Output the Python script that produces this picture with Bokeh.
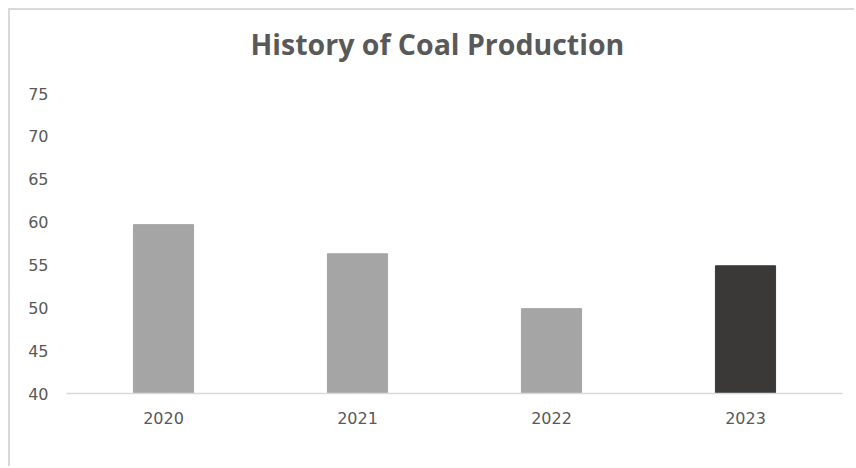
from bokeh.plotting import figure
from bokeh.models import ColumnDataSource, FactorRange, Range1d, FixedTicker, Title
from bokeh.embed import file_html
from bokeh.resources import INLINE

years = ["2020", "2021", "2022", "2023"]
production = [59.7, 56.3, 49.9, 54.9]
bar_colors = ["#a5a5a5", "#a5a5a5", "#a5a5a5", "#3a3938"]
y_ticks = [40, 45, 50, 55, 60, 65, 70, 75]
title_text = "History of Coal Production"

source = ColumnDataSource(data=dict(years=years, production=production, colors=bar_colors))

p = figure(width=846, height=458, output_backend="svg", toolbar_location=None,
           x_range=FactorRange(*years, range_padding=0), y_range=Range1d(40, 75),
           min_border_left=56, min_border_right=14, min_border_top=83, min_border_bottom=75,
           border_fill_color="white", background_fill_color="white", outline_line_color=None)
p.styles = {"margin-left": "8px", "margin-top": "8px",
            "border-left": "2px solid #d9d9d9", "border-top": "2px solid #d9d9d9"}

p.vbar(x="years", top="production", bottom=40, width=0.31, color="colors", source=source)

# spacer panel between frame and title
spacer = Title(text=" ", text_font_size="1px", standoff=28)
p.add_layout(spacer, "above")
t = Title(text=title_text, align="left", offset=184, text_font="Open Sans", text_font_size="28.5px",
          text_font_style="bold", text_color="#595959", standoff=0)
p.add_layout(t, "above")

p.xgrid.grid_line_color = None
p.ygrid.grid_line_color = None

p.yaxis.ticker = FixedTicker(ticks=y_ticks)
p.yaxis.axis_line_color = None
p.yaxis.major_tick_line_color = None
p.yaxis.minor_tick_line_color = None
p.yaxis.major_tick_out = 0
p.yaxis.major_tick_in = 0
p.yaxis.major_label_standoff = 18
p.yaxis.major_label_text_font = "DejaVu Sans"
p.yaxis.major_label_text_font_size = "16px"
p.yaxis.major_label_text_color = "#595959"

p.xaxis.axis_line_color = "#d9d9d9"
p.xaxis.axis_line_width = 1.5
p.xaxis.major_tick_line_color = None
p.xaxis.minor_tick_line_color = None
p.xaxis.major_tick_out = 0
p.xaxis.major_tick_in = 0
p.xaxis.major_label_standoff = 18
p.xaxis.major_label_text_font = "DejaVu Sans"
p.xaxis.major_label_text_font_size = "16px"
p.xaxis.major_label_text_color = "#595959"

open("out.html", "w").write(file_html(p, INLINE))
